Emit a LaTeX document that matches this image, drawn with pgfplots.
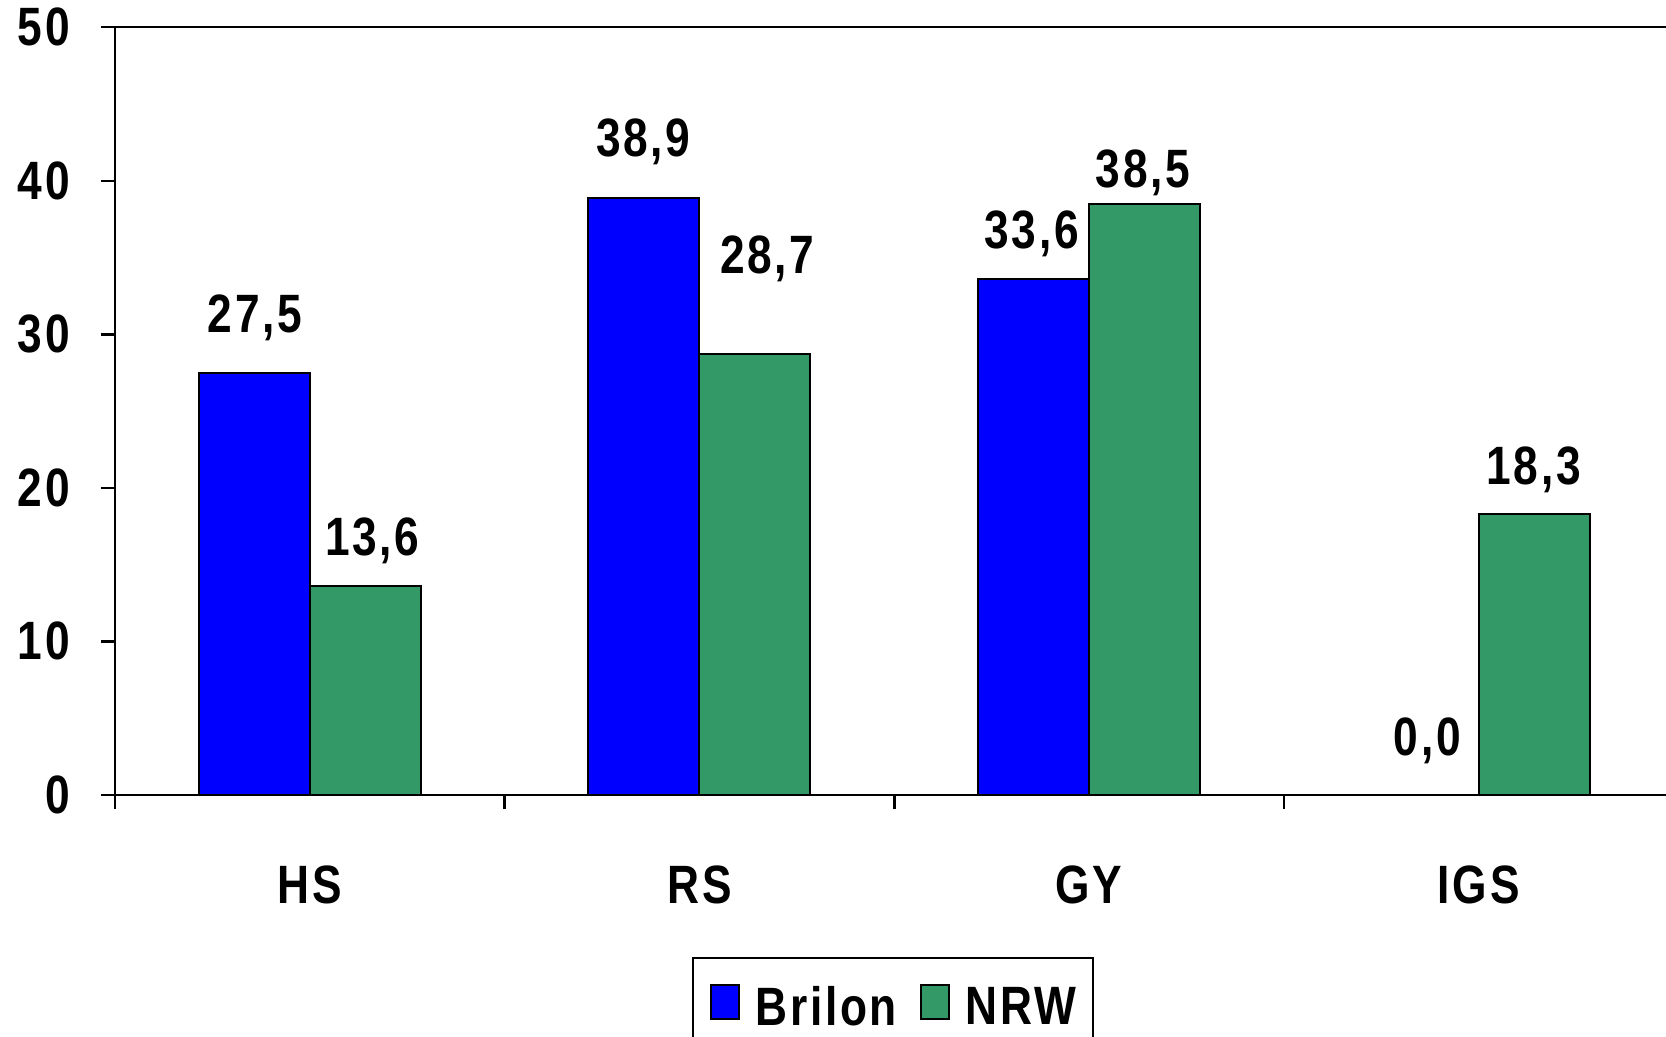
\documentclass[border=0pt]{standalone}
\usepackage{fontspec}
\setmainfont{Liberation Sans}[FakeStretch=0.82, LetterSpace=5]
\usepackage{pgfplots}
\pgfplotsset{compat=1.18}
\usepackage{pgfplotstable}
\definecolor{brilonblue}{RGB}{0,0,255}
\definecolor{nrwgreen}{RGB}{51,153,102}
\newcommand\lbl{\fontsize{27}{32}\selectfont\bfseries}
\pgfplotstableread{
x y dx dy
0 27.5 0.3 29.7
1 38.9 -0.3 30.3
2 33.6 -1.0 25.0
3 0.0 2.0 29.2
}\tblB
\pgfplotstableread{
x y dx dy
0 13.6 3.5 25.0
1 28.7 6.1 50.0
2 38.5 -0.8 17.5
3 18.3 -0.3 24.4
}\tblN
\pgfplotsset{ybar legend/.style={legend image code/.code={\draw[##1,draw=black,line width=1pt] (0pt,-5.8pt) rectangle (13.8pt,11.2pt);}}}
\begin{document}
\begin{tikzpicture}
\begin{axis}[name=ax, scale only axis, width=779.3pt, height=383.8pt,
  xmin=-0.5, xmax=3.5, ymin=0, ymax=50, ytick={0,10,...,50},
  xtick={-0.5,0.5,1.5,2.5,3.5}, x tick label as interval, xticklabels={HS,RS,GY,IGS},
  ybar=0pt, bar width=55.5pt,
  tick align=outside, xtick pos=left, ytick pos=left, major tick length=7pt,
  axis line style={line width=1.2pt}, tick style={line width=1.2pt, black},
  tick label style={font=\lbl},
  xticklabel style={yshift=-25pt}, yticklabel style={xshift=-12pt},
  /pgf/number format/assume math mode=true,
  legend columns=2,
  legend style={at={(0.3702,-0.211)}, anchor=north west, draw=black, line width=1pt, font=\lbl,
    inner xsep=8.5pt, inner ysep=13pt, nodes={inner xsep=0pt, inner ysep=0pt},
    /tikz/every odd column/.append style={column sep=8pt},
    /tikz/every even column/.append style={column sep=11.5pt}},
  nodes near coords={\pgfmathprintnumber[fixed,fixed zerofill,precision=1,use comma]{\pgfplotspointmeta}},
  visualization depends on={\thisrow{dx} \as \dx},
  visualization depends on={\thisrow{dy} \as \dy},
  every node near coord/.append style={font=\lbl, anchor=base, xshift=\dx pt, yshift={\dy pt - 9.5pt}},
]
\addplot[fill=brilonblue, draw=black, line width=1pt] table[x=x,y=y]{\tblB};
\addplot[fill=nrwgreen, draw=black, line width=1pt] table[x=x,y=y]{\tblN};
\legend{Brilon,NRW}
\end{axis}
\pgfresetboundingbox
\path ([shift={(-57.5pt,-121pt)}]ax.south west) rectangle ([shift={(-3.8pt,13.65pt)}]ax.north east);
\end{tikzpicture}
\end{document}
